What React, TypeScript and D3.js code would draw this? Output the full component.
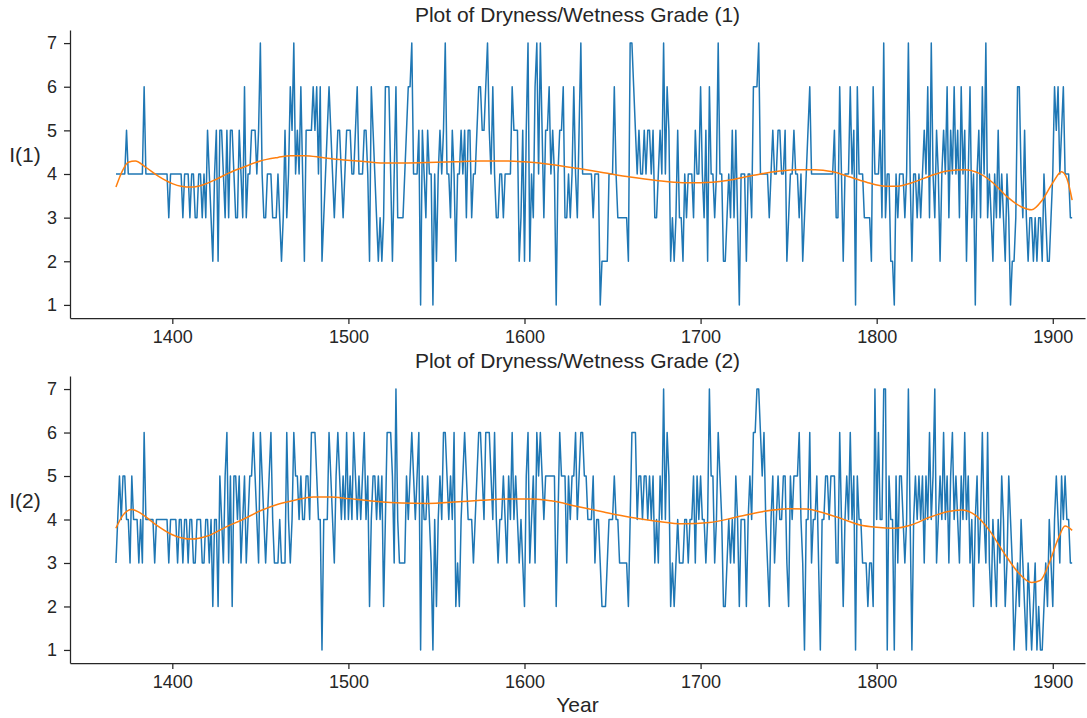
import React, { useEffect, useRef } from "react";
import * as d3 from "d3";

// first year of both records, one value per year up to 1911
const startYear = 1368;

const grade1 = [
  4, 4,
  4, 4, 4, 4, 5, 4, 4, 4, 4, 4,
  4, 4, 4, 4, 6, 4, 4, 4, 4, 4,
  4, 4, 4, 4, 4, 4, 4, 4, 3, 4,
  4, 4, 4, 4, 4, 4, 3, 4, 4, 4,
  3, 4, 4, 3, 3, 4, 4, 3, 4, 3,
  5, 4, 3, 2, 4, 5, 2, 5, 5, 4,
  3, 5, 3, 5, 5, 4, 3, 3, 5, 4,
  3, 6, 3, 4, 4, 5, 5, 5, 4, 5,
  7, 4, 3, 3, 4, 4, 4, 3, 3, 3,
  4, 3, 2, 3, 5, 3, 4, 6, 5, 7,
  4, 5, 4, 6, 4, 2, 5, 5, 5, 5,
  6, 5, 6, 4, 6, 2, 3, 4, 5, 6,
  5, 4, 3, 4, 5, 5, 4, 3, 4, 5,
  5, 5, 4, 4, 5, 6, 4, 4, 4, 5,
  5, 4, 2, 6, 5, 4, 3, 2, 3, 2,
  3, 6, 6, 6, 4, 2, 4, 6, 3, 3,
  3, 3, 4, 5, 6, 6, 7, 4, 4, 4,
  5, 1, 5, 4, 3, 5, 4, 4, 1, 4,
  2, 4, 5, 4, 5, 7, 4, 4, 3, 5,
  4, 2, 4, 4, 5, 4, 5, 3, 5, 5,
  3, 4, 4, 5, 6, 6, 5, 5, 6, 7,
  5, 4, 6, 4, 3, 3, 4, 4, 3, 4,
  4, 4, 4, 6, 5, 5, 5, 2, 3, 5,
  2, 5, 7, 2, 4, 3, 6, 7, 4, 7,
  5, 3, 5, 5, 6, 4, 5, 4, 1, 4,
  5, 5, 6, 3, 3, 4, 3, 4, 6, 4,
  3, 5, 7, 4, 4, 4, 4, 4, 4, 3,
  4, 4, 4, 1, 2, 2, 2, 2, 4, 4,
  4, 6, 4, 3, 3, 3, 3, 3, 3, 2,
  7, 7, 6, 5, 4, 5, 4, 4, 5, 4,
  5, 5, 4, 5, 3, 3, 4, 5, 4, 7,
  4, 6, 5, 2, 3, 2, 3, 5, 3, 3,
  2, 4, 3, 4, 4, 4, 3, 5, 4, 4,
  6, 4, 3, 5, 2, 6, 4, 4, 3, 4,
  7, 4, 4, 2, 2, 3, 4, 3, 5, 3,
  5, 3, 1, 4, 4, 4, 2, 4, 4, 3,
  6, 6, 6, 7, 4, 4, 4, 4, 4, 3,
  4, 5, 4, 4, 5, 5, 4, 4, 5, 2,
  3, 4, 4, 5, 4, 4, 3, 4, 2, 3,
  4, 5, 6, 4, 4, 4, 4, 4, 4, 4,
  4, 4, 4, 4, 4, 4, 5, 3, 3, 6,
  4, 2, 4, 4, 4, 6, 4, 5, 1, 6,
  4, 4, 4, 3, 3, 3, 3, 2, 6, 4,
  4, 4, 5, 3, 7, 3, 4, 4, 2, 2,
  1, 4, 3, 4, 4, 4, 3, 4, 7, 4,
  2, 4, 4, 3, 4, 3, 4, 5, 4, 6,
  3, 7, 4, 3, 5, 4, 2, 4, 5, 4,
  6, 3, 5, 4, 6, 4, 5, 3, 6, 4,
  5, 2, 4, 6, 3, 4, 1, 4, 5, 3,
  6, 4, 7, 3, 4, 3, 2, 4, 3, 5,
  3, 4, 3, 2, 4, 3, 1, 2, 2, 3,
  6, 6, 4, 3, 5, 3, 2, 3, 3, 2,
  3, 2, 3, 3, 2, 4, 3, 2, 2, 3,
  4, 6, 5, 6, 4, 5, 6, 4, 4, 4,
  3, 3,
];

const grade2 = [
  3, 4,
  5, 4, 5, 5, 4, 4, 3, 5, 4, 4,
  4, 3, 4, 3, 6, 4, 4, 4, 4, 4,
  3, 4, 4, 4, 4, 4, 4, 4, 3, 4,
  4, 4, 4, 3, 4, 4, 3, 4, 4, 3,
  4, 4, 3, 3, 4, 4, 4, 3, 3, 4,
  4, 3, 4, 2, 4, 4, 2, 5, 4, 3,
  5, 6, 3, 5, 2, 5, 5, 4, 5, 3,
  4, 5, 3, 4, 5, 5, 6, 5, 4, 3,
  6, 5, 4, 3, 4, 5, 6, 4, 3, 3,
  3, 4, 3, 3, 3, 6, 4, 3, 4, 6,
  5, 5, 4, 5, 4, 4, 5, 5, 4, 6,
  6, 6, 5, 4, 4, 1, 4, 4, 4, 6,
  5, 4, 3, 5, 6, 5, 4, 5, 4, 6,
  4, 5, 4, 6, 5, 4, 5, 4, 5, 6,
  4, 5, 2, 4, 5, 5, 4, 5, 4, 5,
  2, 4, 6, 6, 6, 5, 3, 7, 4, 3,
  3, 3, 3, 5, 4, 5, 6, 5, 4, 5,
  6, 1, 5, 4, 4, 5, 4, 3, 1, 4,
  2, 4, 5, 4, 6, 6, 5, 4, 5, 4,
  6, 2, 3, 2, 4, 5, 6, 5, 4, 4,
  4, 3, 4, 5, 6, 6, 5, 4, 6, 6,
  6, 5, 4, 6, 4, 3, 4, 4, 5, 4,
  3, 5, 4, 6, 4, 5, 4, 3, 4, 3,
  2, 5, 6, 3, 4, 5, 3, 6, 5, 6,
  5, 4, 5, 5, 5, 5, 5, 5, 2, 4,
  6, 5, 5, 5, 3, 5, 4, 5, 5, 6,
  4, 5, 6, 6, 5, 5, 4, 4, 4, 5,
  3, 4, 4, 3, 2, 2, 2, 3, 4, 4,
  4, 5, 4, 4, 3, 3, 3, 3, 3, 2,
  4, 6, 6, 6, 4, 5, 5, 4, 5, 5,
  4, 5, 4, 5, 3, 4, 3, 5, 4, 7,
  4, 6, 5, 2, 3, 2, 3, 4, 3, 3,
  3, 4, 4, 3, 4, 4, 5, 3, 5, 4,
  5, 4, 4, 3, 4, 7, 5, 5, 3, 4,
  6, 5, 4, 2, 2, 3, 4, 3, 4, 3,
  5, 4, 2, 4, 4, 4, 2, 4, 5, 4,
  6, 6, 7, 7, 6, 5, 6, 4, 3, 2,
  4, 5, 3, 4, 5, 4, 4, 5, 5, 3,
  2, 5, 4, 5, 5, 5, 6, 4, 3, 1,
  4, 4, 6, 3, 4, 4, 5, 3, 1, 4,
  4, 5, 5, 4, 5, 5, 5, 3, 3, 6,
  4, 2, 4, 5, 4, 6, 4, 5, 1, 5,
  4, 4, 3, 3, 3, 2, 3, 3, 2, 7,
  4, 6, 4, 4, 7, 7, 1, 5, 4, 4,
  1, 5, 3, 5, 5, 4, 3, 4, 7, 4,
  1, 4, 5, 4, 5, 4, 5, 3, 5, 4,
  6, 4, 5, 7, 3, 4, 5, 4, 6, 4,
  5, 3, 5, 6, 4, 5, 4, 3, 5, 4,
  6, 4, 5, 3, 4, 2, 4, 5, 3, 4,
  6, 4, 3, 6, 3, 2, 4, 3, 2, 4,
  3, 5, 4, 2, 3, 5, 4, 3, 1, 2,
  3, 2, 4, 3, 2, 1, 3, 2, 1, 2,
  3, 1, 2, 1, 1, 2, 3, 2, 4, 3,
  2, 4, 5, 4, 3, 5, 4, 5, 4, 4,
  3, 3,
];

// smoothed trend
const trendYears1 = [1368, 1372, 1375, 1379, 1385, 1392, 1400, 1405, 1411, 1418, 1425, 1432, 1440, 1450, 1460, 1467, 1475, 1485, 1495, 1505, 1520, 1540, 1560, 1575, 1590, 1600, 1615, 1630, 1645, 1660, 1675, 1690, 1700, 1715, 1730, 1745, 1755, 1765, 1775, 1785, 1795, 1805, 1812, 1820, 1830, 1840, 1850, 1858, 1866, 1874, 1882, 1888, 1894, 1900, 1905, 1908, 1911];
const trend1 = [3.7, 4.1, 4.27, 4.3, 4.15, 3.95, 3.78, 3.72, 3.7, 3.76, 3.88, 4.02, 4.15, 4.3, 4.38, 4.42, 4.42, 4.38, 4.33, 4.3, 4.25, 4.26, 4.28, 4.3, 4.3, 4.28, 4.22, 4.13, 4.03, 3.93, 3.85, 3.8, 3.8, 3.85, 3.97, 4.07, 4.1, 4.1, 4.05, 3.93, 3.8, 3.72, 3.72, 3.8, 3.95, 4.07, 4.1, 4.02, 3.8, 3.48, 3.25, 3.18, 3.4, 3.8, 4.05, 3.9, 3.4];

const trendYears2 = [1368, 1372, 1377, 1383, 1390, 1400, 1411, 1420, 1430, 1440, 1450, 1460, 1470, 1480, 1490, 1500, 1515, 1530, 1545, 1560, 1575, 1590, 1605, 1615, 1630, 1645, 1660, 1675, 1690, 1705, 1720, 1735, 1750, 1760, 1770, 1780, 1790, 1800, 1810, 1820, 1830, 1840, 1848, 1856, 1864, 1872, 1880, 1888, 1893, 1898, 1903, 1907, 1911];
const trend2 = [3.8, 4.1, 4.23, 4.12, 3.9, 3.65, 3.55, 3.62, 3.82, 4.0, 4.2, 4.35, 4.45, 4.52, 4.52, 4.48, 4.42, 4.38, 4.37, 4.4, 4.44, 4.47, 4.47, 4.43, 4.3, 4.17, 4.05, 3.96, 3.9, 3.93, 4.05, 4.18, 4.25, 4.24, 4.15, 4.02, 3.88, 3.82, 3.8, 3.88, 4.05, 4.18, 4.22, 4.1, 3.75, 3.25, 2.8, 2.55, 2.6, 3.0, 3.55, 3.85, 3.75];

const yTicks = [1, 2, 3, 4, 5, 6, 7];
const xTicks = [1400, 1500, 1600, 1700, 1800, 1900];

const panels = [
  { title: "Plot of Dryness/Wetness Grade (1)", label: "I(1)", values: grade1, tYears: trendYears1, trend: trend1, top: 30, bottom: 318 },
  { title: "Plot of Dryness/Wetness Grade (2)", label: "I(2)", values: grade2, tYears: trendYears2, trend: trend2, top: 376, bottom: 663 },
];

const W = 1087;
const H = 718;
const left = 70;
const right = 1085;
const ink = "#262626";
const font = "'Liberation Sans', Arial, sans-serif";

const Panel = ({ p, showXLabel }) => {
  const xRef = useRef(null);
  const yRef = useRef(null);

  const x = d3.scaleLinear().domain([1341.9, 1918.3]).range([left, right]);
  const y = d3.scaleLinear().domain([0.7, 7.3]).range([p.bottom, p.top]);

  const years = p.values.map((_, i) => startYear + i);
  const line = d3.line().x((d, i) => x(years[i])).y((d) => y(d));
  const trendLine = d3
    .line()
    .x((d, i) => x(p.tYears[i]))
    .y((d) => y(d))
    .curve(d3.curveMonotoneX);

  useEffect(() => {
    const styleAxis = (g) => {
      g.selectAll(".domain").attr("stroke", ink).attr("stroke-width", 1.25);
      g.selectAll(".tick line").attr("stroke", ink).attr("stroke-width", 1.25);
      g.selectAll(".tick text")
        .attr("fill", ink)
        .attr("font-size", 18)
        .attr("font-family", font);
    };
    d3.select(xRef.current)
      .call(d3.axisBottom(x).tickValues(xTicks).tickSize(6).tickSizeOuter(0).tickPadding(6).tickFormat(d3.format("d")))
      .call(styleAxis);
    d3.select(yRef.current)
      .call(d3.axisLeft(y).tickValues(yTicks).tickSize(6).tickSizeOuter(0).tickPadding(7).tickFormat(d3.format("d")))
      .call(styleAxis);
  });

  return (
    <g>
      <text x={(left + right) / 2} y={p.top - 8} textAnchor="middle" fontSize={21} fill={ink} fontFamily={font}>
        {p.title}
      </text>
      <text x={25} y={(p.top + p.bottom) / 2 - 12} textAnchor="middle" fontSize={21} fill={ink} fontFamily={font}>
        {p.label}
      </text>
      <path d={line(p.values)} fill="none" stroke="#1f77b4" strokeWidth={1.5} strokeLinejoin="round" />
      <path d={trendLine(p.trend)} fill="none" stroke="#ff7f0e" strokeWidth={1.5} />
      <g ref={xRef} transform={`translate(0,${p.bottom})`} />
      <g ref={yRef} transform={`translate(${left},0)`} />
      {showXLabel && (
        <text x={(left + right) / 2} y={712} textAnchor="middle" fontSize={21} fill={ink} fontFamily={font}>
          Year
        </text>
      )}
    </g>
  );
};

export default function App() {
  return (
    <div style={{ position: "absolute", left: 0, top: 0, background: "#fff" }}>
      <svg width={W} height={H} viewBox={`0 0 ${W} ${H}`}>
        <rect width={W} height={H} fill="#fff" />
        {panels.map((p, i) => (
          <Panel key={i} p={p} showXLabel={i === 1} />
        ))}
      </svg>
    </div>
  );
}
